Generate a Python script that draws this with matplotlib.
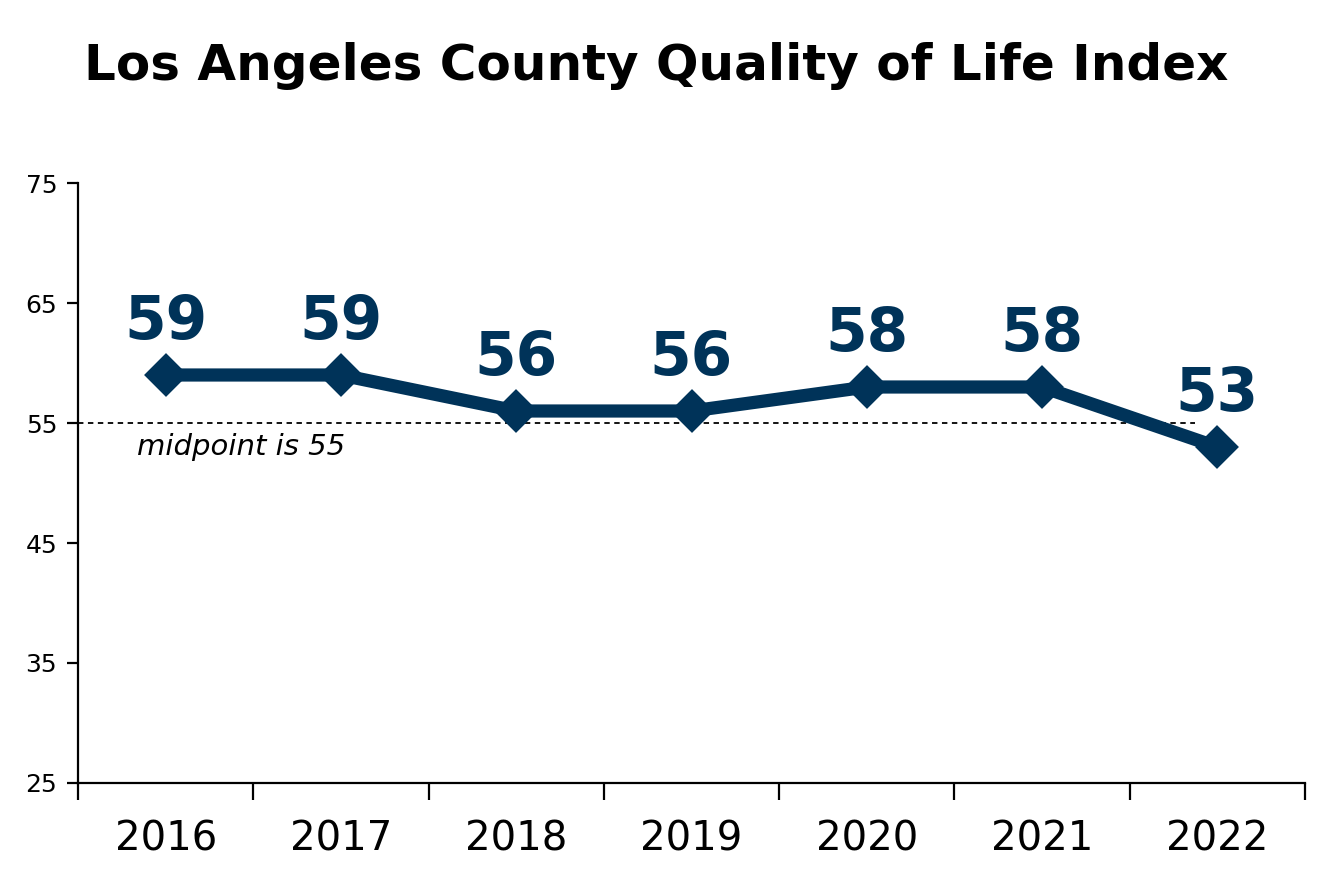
import matplotlib
matplotlib.use("Agg")
import matplotlib.pyplot as plt
from matplotlib.ticker import FixedLocator, NullFormatter

years = ["2016", "2017", "2018", "2019", "2020", "2021", "2022"]
values = [59, 59, 56, 56, 58, 58, 53]
yticks = [25, 35, 45, 55, 65, 75]
midpoint = 55

navy = "#003359"
plt.rcParams['font.family'] = ['DejaVu Sans']

fig = plt.figure(figsize=(13.23, 8.85), dpi=100)
ax = fig.add_axes([78/1323, 1-783/885, (1305-78)/1323, (783-183)/885])

x = list(range(len(years)))
ax.plot(x, values, color=navy, lw=9.5, marker='D', ms=18, mfc=navy, mec=navy,
        mew=4, solid_joinstyle='round', zorder=3)

ax.plot([-0.5, 5.87], [midpoint, midpoint], ls=(0, (3, 2.5)), color='black', lw=1.3, zorder=2)
ax.text(-0.165, midpoint - 2, "midpoint is 55", style='italic', fontsize=21,
        ha='left', va='center')

for xi, v in zip(x, values):
    ax.annotate(str(v), (xi, v), xytext=(0, 38), textcoords='offset points',
                ha='center', va='center', fontsize=43, fontweight='bold', color=navy)

ax.set_xlim(-0.5, len(years) - 0.5)
ax.set_ylim(25, 75)
ax.set_yticks(yticks)
ax.set_yticklabels([str(t) for t in yticks], fontsize=18)
ax.tick_params(axis='y', length=8, width=1.6, pad=7)
ax.set_xticks(x)
ax.set_xticklabels(years, fontsize=29)
ax.tick_params(axis='x', which='major', length=0, pad=26)
ax.xaxis.set_minor_locator(FixedLocator([i - 0.5 for i in range(len(years) + 1)]))
ax.xaxis.set_minor_formatter(NullFormatter())
ax.tick_params(axis='x', which='minor', length=12, width=1.6)

for s in ['top', 'right']:
    ax.spines[s].set_visible(False)
for s in ['left', 'bottom']:
    ax.spines[s].set_linewidth(1.6)

fig.text(0.5 * (85 + 1227) / 1323, 1 - 66/885, "Los Angeles County Quality of Life Index",
         ha='center', va='center', fontsize=36, fontweight='bold')

fig.savefig("out.png", dpi=100)
